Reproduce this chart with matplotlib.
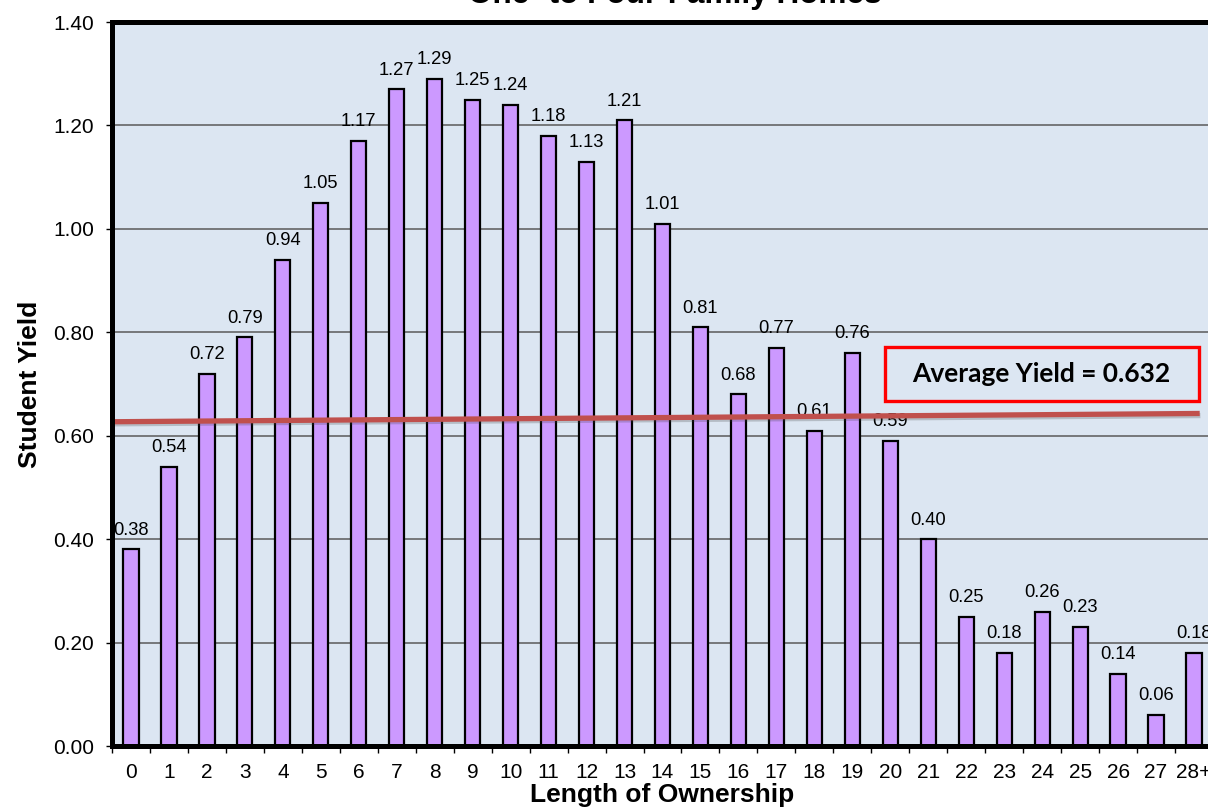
import matplotlib
matplotlib.use("Agg")
import matplotlib.pyplot as plt
import matplotlib.patches as mpatches
import matplotlib.patheffects as pe
from matplotlib.ticker import FixedLocator, MultipleLocator

plt.rcParams["font.family"] = ["Liberation Sans", "DejaVu Sans"]

# student yield by years of ownership
years = [str(i) for i in range(28)] + ["28+"]
yields = [0.38, 0.54, 0.72, 0.79, 0.94, 1.05, 1.17, 1.27, 1.29, 1.25,
          1.24, 1.18, 1.13, 1.21, 1.01, 0.81, 0.68, 0.77, 0.61, 0.76,
          0.59, 0.40, 0.25, 0.18, 0.26, 0.23, 0.14, 0.06, 0.18]
avg_yield = 0.632
# the average line as drawn runs slightly uphill
avg_line_x = [-0.5, 28.15]
avg_line_y = [0.627, 0.643]

fig = plt.figure(figsize=(12.08, 8.10), dpi=100)
ax = fig.add_axes([112 / 1208, 64 / 810, 1101 / 1208, 724 / 810])
ax.set_facecolor("#dce6f2")

x = list(range(len(years)))
ax.bar(x, yields, width=0.4, color="#cc99ff", edgecolor="black", linewidth=1.6, zorder=3)

for xi, v in zip(x, yields):
    ax.annotate(f"{v:.2f}", (xi, v), xytext=(0, 10.5), textcoords="offset points",
                ha="center", va="baseline", fontsize=13.2, zorder=4)

ax.plot(avg_line_x, avg_line_y, color="#c0504d", linewidth=3.8, solid_capstyle="butt",
        zorder=5, clip_on=False,
        path_effects=[pe.SimpleLineShadow(offset=(0.5, -1.5), alpha=0.25, shadow_color="#404040"),
                      pe.Normal()])

# callout box with the average
box = mpatches.Rectangle((0.7021, 0.4765), 0.2852, 0.0746, transform=ax.transAxes,
                         facecolor="none", edgecolor="#ff0000", linewidth=2.4, zorder=6)
ax.add_patch(box)
ax.text(0.8438, 0.5138, f"Average Yield = {avg_yield:.3f}", transform=ax.transAxes,
        ha="center", va="center", fontsize=19, fontweight="bold", family="Lato", zorder=6)

ax.set_xlim(-0.5, len(years) - 0.5)
ax.set_ylim(0, 1.40)
ax.yaxis.set_major_locator(MultipleLocator(0.2))
ax.set_yticklabels([f"{t:.2f}" for t in ax.get_yticks()])
ax.grid(axis="y", color="#5a5a5a", linewidth=1.1, zorder=1)

ax.set_xticks(x)
ax.set_xticklabels(years)
ax.xaxis.set_minor_locator(FixedLocator([i - 0.5 for i in range(len(years) + 1)]))
ax.tick_params(axis="x", which="major", length=0, pad=12, labelsize=15)
ax.tick_params(axis="x", which="minor", length=5, width=1, direction="out")
ax.tick_params(axis="y", length=4, width=1, pad=9, labelsize=15)

for side in ["left", "bottom", "top"]:
    ax.spines[side].set_linewidth(3.6)
    ax.spines[side].set_zorder(7)
ax.spines["right"].set_visible(False)

ax.set_xlabel("Length of Ownership", fontsize=19, fontweight="bold", labelpad=1)
ax.set_ylabel("Student Yield", fontsize=19, fontweight="bold", labelpad=8)

fig.text(675 / 1208, 1 - 3 / 810, "One- to Four-Family Homes", ha="center", va="baseline",
         fontsize=22.7, fontweight="bold")

fig.savefig("out.png", dpi=100)
